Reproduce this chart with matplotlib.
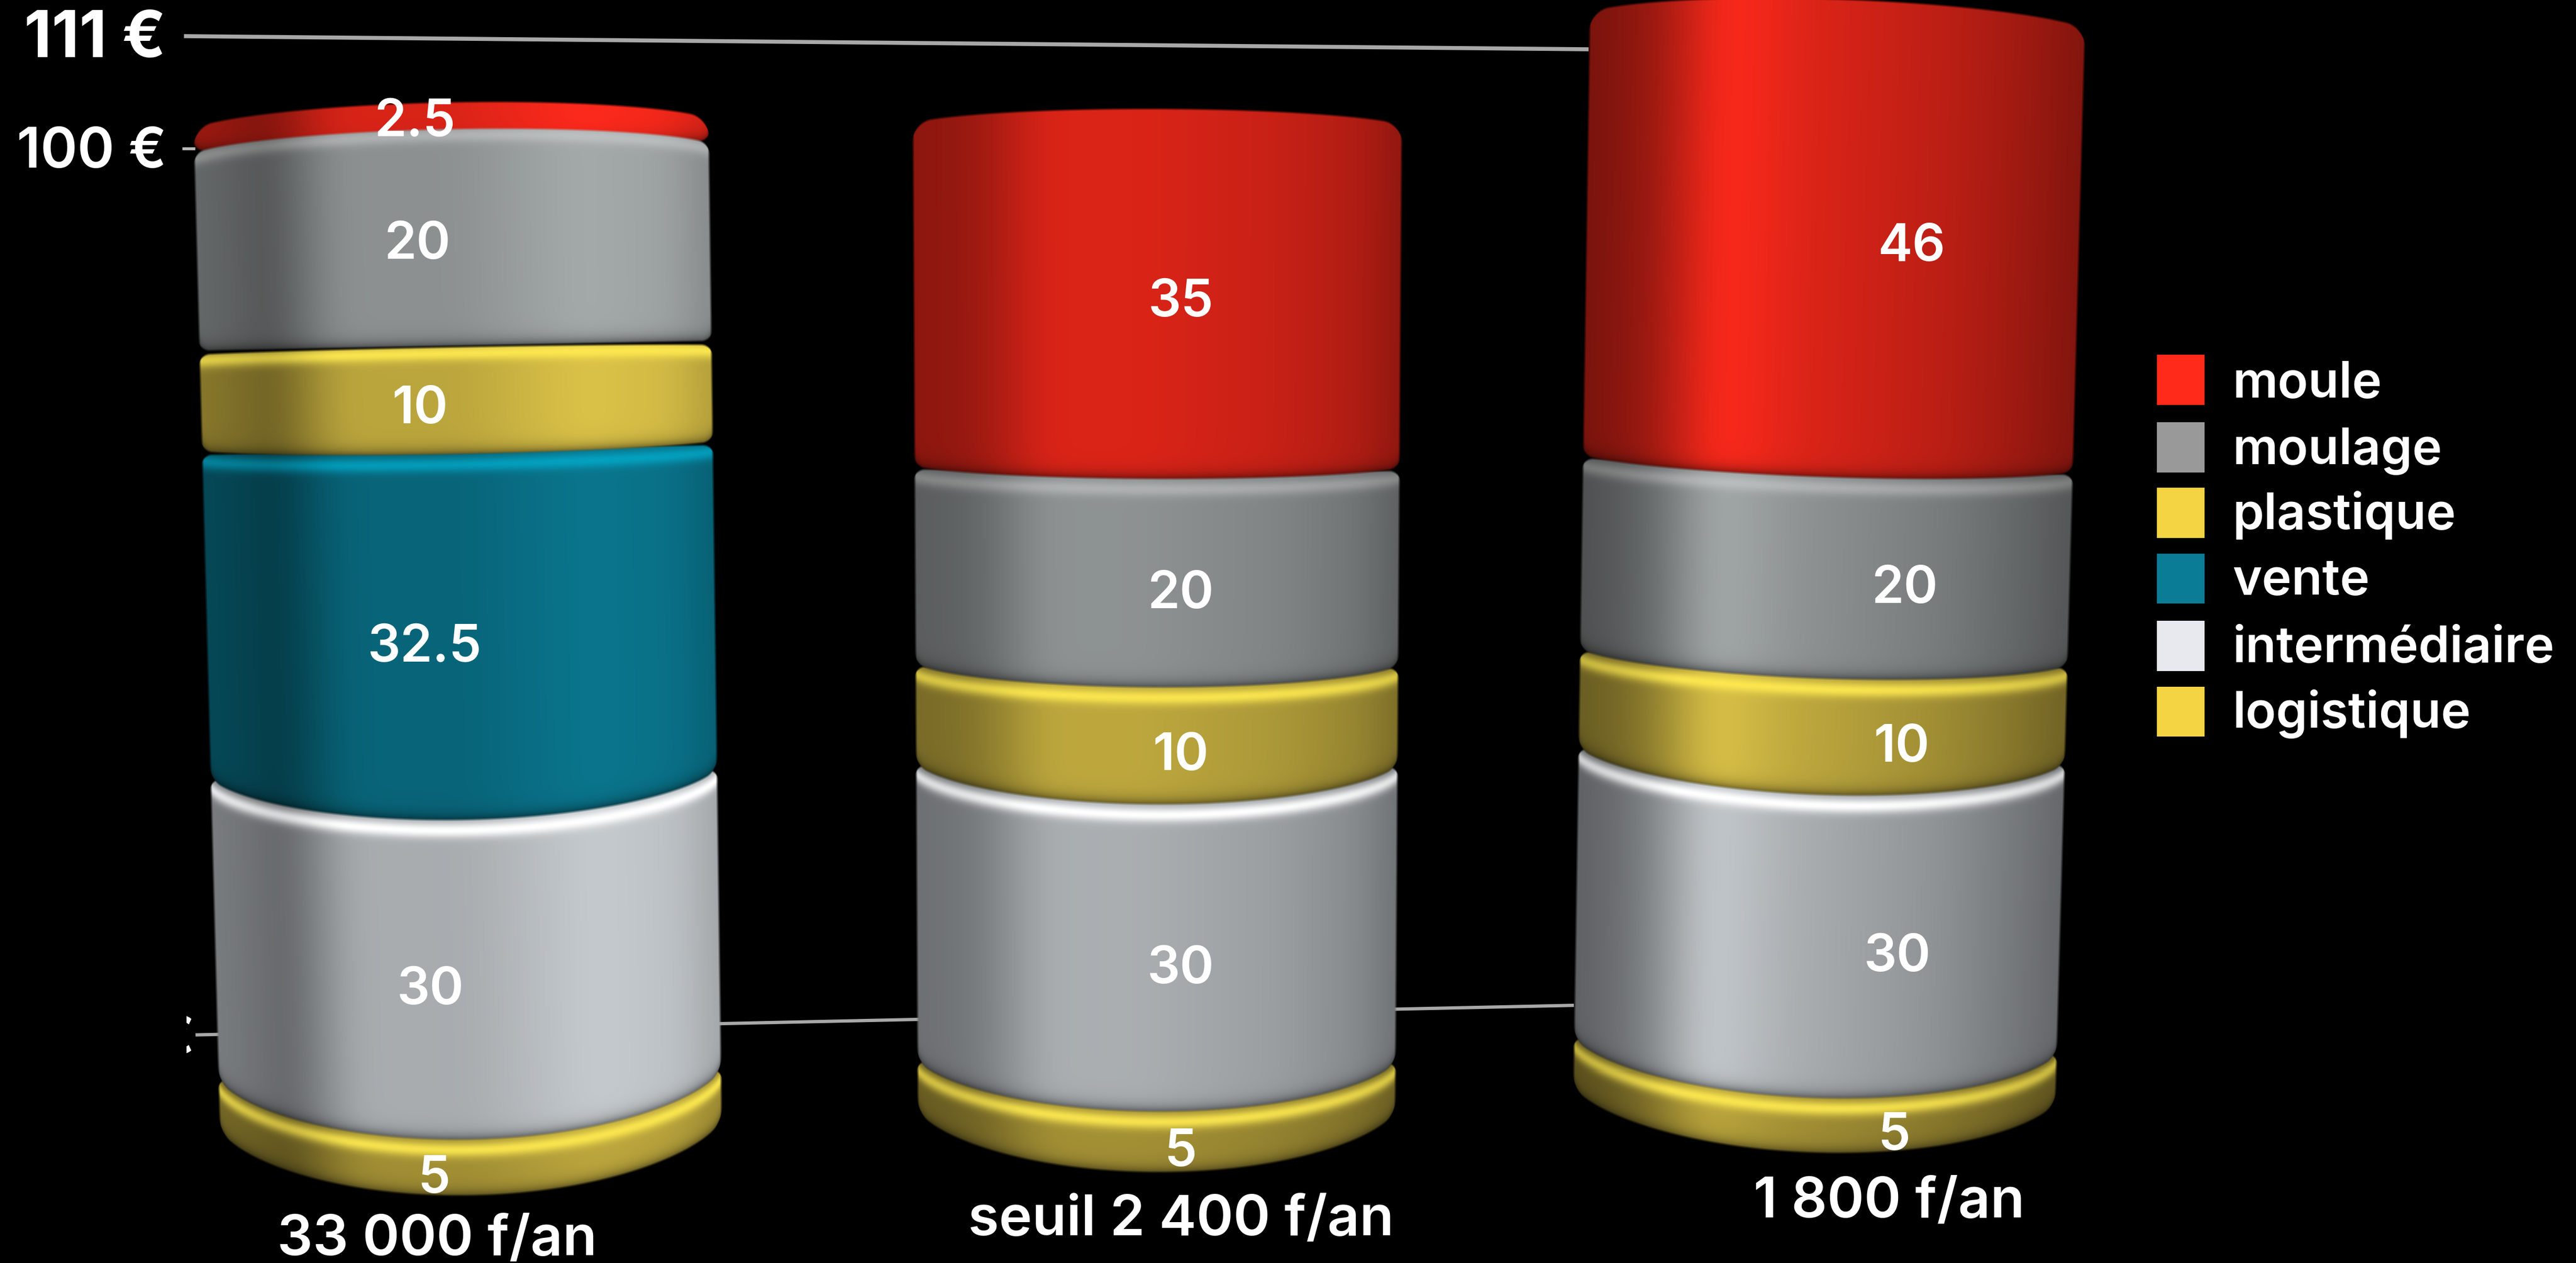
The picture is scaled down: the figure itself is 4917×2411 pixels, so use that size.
import numpy as np
import matplotlib
matplotlib.use("Agg")
import matplotlib.pyplot as plt
from matplotlib.patches import Rectangle

# ---------- data ----------
series = ["logistique", "intermédiaire", "vente", "plastique", "moulage", "moule"]
col_33000 = [5, 30, 32.5, 10, 20, 2.5]
col_2400 = [5, 30, 0, 10, 20, 35]
col_1800 = [5, 30, 0, 10, 20, 46]
columns = [col_33000, col_2400, col_1800]
categories = ["33 000 f/an", "seuil 2 400 f/an", "1 800 f/an"]
legend_order = ["moule", "moulage", "plastique", "vente", "intermédiaire", "logistique"]
legend_colors = ["#FF2A1A", "#999999", "#F4D442", "#0A7C96", "#E8E9EE", "#F4D442"]
value_ticks = ["111 €", "100 €"]

# ---------- style ----------
W, H = 4917, 2411
S = W / 1568
FONT = "Inter"
peak = {"moule": (255, 42, 28), "moulage": (165, 170, 170), "plastique": (220, 195, 72),
        "vente": (10, 118, 142), "intermédiaire": (198, 203, 207), "logistique": (190, 168, 62)}
rim = {"moule": ((255, 60, 40), 0.0), "moulage": ((235, 235, 235), 0.35),
       "plastique": ((255, 235, 80), 0.9), "vente": ((0, 190, 225), 0.6),
       "intermédiaire": ((255, 255, 255), 1.0), "logistique": ((255, 235, 80), 0.9)}
prof_t = [-1, -.82, -.72, -.45, -.1, 0, .5, .85, 1]
layouts = [
    dict(base=683, scale=6.08, xl0=117, xr0=432, y0=72, xl1=133, xr1=440, y1=680, tilt=-3,
         hor=240, ky=[75, 210, 280, 467, 650, 680], kv=[-14, -2, 6, 30, 42, 46], lab_dx=-22,
         prof=[.62, .56, .48, .85, .85, .85, 1, .95, .8]),
    dict(base=675, scale=6.0, xl0=555, xr0=854, y0=75, xl1=558, xr1=850, y1=675, tilt=0.5,
         hor=200, ky=[75, 287, 410, 470, 648, 675], kv=[-10, 8, 15, 27, 33, 40], lab_dx=14.5,
         prof=[.55, .58, .62, .86, .86, .85, .78, .68, .55]),
    dict(base=665, scale=5.88, xl0=967, xr0=1270, y0=12, xl1=957, xr1=1252, y1=665, tilt=5,
         hor=180, ky=[12, 283, 400, 459, 636, 665], kv=[-14, 9, 14, 26, 34, 38], lab_dx=48,
         prof=[.47, .55, .62, 1, .86, .84, .72, .58, .5]),
]
cat_xy = [(266, 764), (719, 752), (1150, 741)]
GAP = 1.0 * S
SOFT = 5.0
CORNER = 7 * S
CORNER_TOP = 12 * S
ARC_POW = 0.62

fig = plt.figure(figsize=(W / 100, H / 100), dpi=100, facecolor="black")

# reference lines behind the columns
bg = fig.add_axes([0, 0, 1, 1])
bg.set_xlim(0, W); bg.set_ylim(H, 0); bg.axis("off")
bg.plot([112 * S, 967 * S], [22 * S, 30 * S], color="#A8A8A8", lw=5.5, solid_capstyle="butt")
bg.plot([119 * S, 958 * S], [630 * S, 612 * S], color="#A8A8A8", lw=4.5, solid_capstyle="butt")
bg.plot([112 * S, 118 * S], [90.5 * S, 90.5 * S], color="#BBBBBB", lw=4)


def kfun(L, y_px):
    return float(np.interp(y_px / S, L["ky"], L["kv"])) * S


def smooth_profile(L, tc):
    grid = np.linspace(-1.3, 1.3, 521)
    raw = np.interp(grid, prof_t, L["prof"])
    ker = np.exp(-0.5 * (np.linspace(-.2, .2, 81) / 0.07) ** 2)
    ker /= ker.sum()
    sm = np.convolve(np.pad(raw, 40, mode="edge"), ker, mode="valid")
    return np.interp(tc, grid, sm)


def draw_segment(ax, L, name, v_lo, v_hi, is_top):
    base, sc = L["base"] * S, L["scale"] * S
    y_lo = base - v_lo * sc - GAP / 2
    y_hi = base - v_hi * sc + GAP / 2
    k_lo = kfun(L, y_lo)
    k_hi = kfun(L, y_hi)
    y0, y1 = L["y0"] * S, L["y1"] * S
    ytop = int(y_hi - abs(k_hi) - 20)
    ybot = int(y_lo + abs(k_lo) + 20)
    xmin = int(min(L["xl0"], L["xl1"]) * S - 15)
    xmax = int(max(L["xr0"], L["xr1"]) * S + 15)
    xs = np.arange(xmin, xmax) + 0.5
    ys = np.arange(ytop, ybot) + 0.5
    X, Y = np.meshgrid(xs, ys)
    f = (Y - y0) / (y1 - y0)
    xl = (L["xl0"] + (L["xl1"] - L["xl0"]) * f) * S
    xr = (L["xr0"] + (L["xr1"] - L["xr0"]) * f) * S
    cx, hw = (xl + xr) / 2, (xr - xl) / 2
    t = (X - cx) / hw
    tc = np.clip(t, -1, 1)
    arc = (1 - tc ** 2) ** ARC_POW
    tilt = L["tilt"] * S * tc

    def corner(R):
        t0 = 1 - R / hw
        w = np.clip((np.abs(tc) - t0) / (1 - t0), 0, 1)
        return R * (1 - np.sqrt(1 - w ** 2))

    top_edge = y_hi + tilt + min(k_hi, 0) * arc + corner(CORNER_TOP if is_top else CORNER)
    bot_edge = y_lo + tilt + max(k_lo, 0) * arc - corner(CORNER)
    alpha = (np.clip((Y - top_edge) / SOFT, 0, 1) * np.clip((bot_edge - Y) / SOFT, 0, 1)
             * np.clip((1 - np.abs(t)) * hw / SOFT, 0, 1))
    shade = smooth_profile(L, tc)
    darkb = 1 - 0.6 * np.exp(-np.clip(bot_edge - Y, 0, None) / (3.5 * S))
    rgb = np.array(peak[name], dtype=float)[None, None, :] * (shade * darkb)[..., None]
    rc, amp = rim[name]
    u = Y - (y_hi + tilt + k_hi * arc + 4.5 * S)
    blend = amp * np.exp(-(u / (4.5 * S)) ** 2) * np.clip(shade + 0.2, 0, 1)
    rgb = rgb * (1 - blend[..., None]) + np.array(rc, dtype=float)[None, None, :] * blend[..., None]
    rgba = np.dstack([np.clip(rgb / 255, 0, 1), alpha])
    ax.imshow(rgba, origin="upper", aspect="auto", interpolation="nearest",
              extent=[xmin, xmax, (base - ybot) / sc, (base - ytop) / sc], zorder=2)


for L, values in zip(layouts, columns):
    base, sc = L["base"] * S, L["scale"] * S
    ax = fig.add_axes([0, 0, 1, 1])
    ax.patch.set_alpha(0)
    cum = np.concatenate([[0], np.cumsum(values)])
    segs = [(n, cum[i], cum[i + 1]) for i, n in enumerate(series) if values[i] > 0]
    hor_val = (base - L["hor"] * S) / sc
    total = cum[-1]
    # painter's order: farthest from the eye level first
    for n, lo, hi in sorted(segs, key=lambda s: -abs((s[1] + s[2]) / 2 - hor_val)):
        draw_segment(ax, L, n, lo, hi, hi == total)
    ax.set_xlim(0, W)
    ax.set_ylim((base - H) / sc, base / sc)
    ax.axis("off")
    for n, lo, hi in segs:
        mid = (lo + hi) / 2
        ymid = base - mid * sc
        k = kfun(L, ymid)
        f = (ymid - L["y0"] * S) / ((L["y1"] - L["y0"]) * S)
        xc = ((L["xl0"] + L["xr0"]) / 2 + ((L["xl1"] + L["xr1"]) - (L["xl0"] + L["xr0"])) / 2 * f) * S
        lab = f"{hi - lo:g}"
        ax.text(xc + L["lab_dx"] * S, mid - (k + 5.5 * S) / sc, lab, color="white", fontsize=71,
                family=FONT, weight="semibold", ha="center", va="center", zorder=5)

# foreground texts
fg = fig.add_axes([0, 0, 1, 1])
fg.patch.set_alpha(0)
fg.set_xlim(0, W); fg.set_ylim(H, 0); fg.axis("off")
fg.text(101 * S, 24.5 * S, value_ticks[0], color="white", fontsize=88, family=FONT, weight="bold",
        ha="right", va="center")
fg.text(101.5 * S, 93 * S, value_ticks[1], color="white", fontsize=77, family=FONT, weight="semibold",
        ha="right", va="center")
frag = fg.text(118 * S, 633 * S, "€", color="white", fontsize=71, family=FONT, weight="semibold",
               ha="right", va="center")
frag.set_clip_path(Rectangle((113.5 * S, 600 * S), 10 * S, 60 * S, transform=fg.transData))
frag.set_clip_on(True)
for lab, (xc, yb) in zip(categories, cat_xy):
    fg.text(xc * S, yb * S, lab, color="white", fontsize=77, family=FONT, weight="semibold",
            ha="center", va="baseline", clip_on=False)

leg_tops = [216, 257, 297, 337, 378, 418]
leg_base = [242, 282.5, 322, 362, 403, 443]
for name, col, yt, yb in zip(legend_order, legend_colors, leg_tops, leg_base):
    fg.add_patch(Rectangle((1313 * S, yt * S), 29 * S, 30.5 * S, facecolor=col, edgecolor="none"))
    fg.text(1359 * S, yb * S, name, color="white", fontsize=69, family=FONT, weight="semibold",
            ha="left", va="baseline")

fig.savefig("out.png", dpi=100, facecolor="black")
